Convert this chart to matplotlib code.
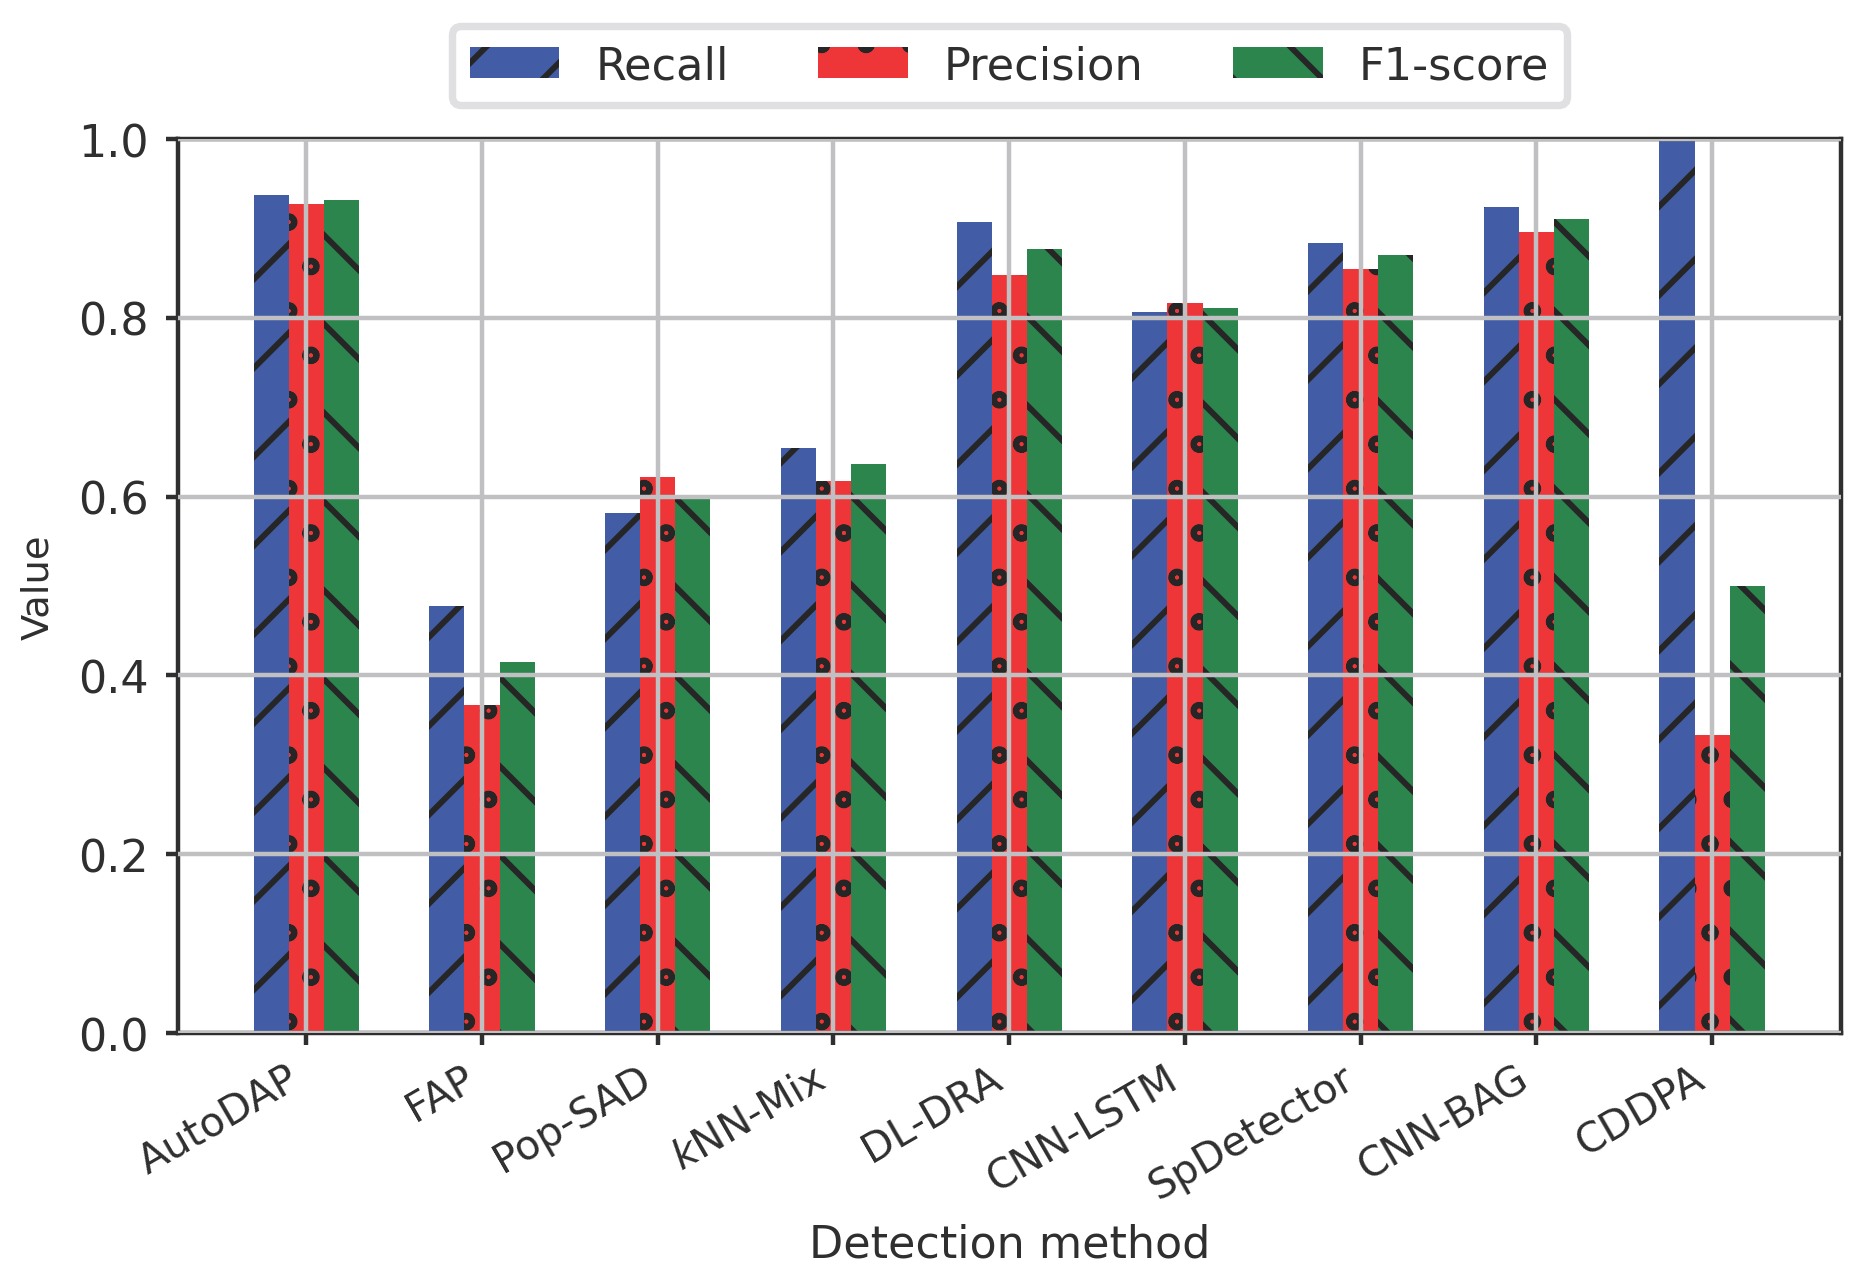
import numpy as np
import matplotlib
matplotlib.use('Agg')
import matplotlib.pyplot as plt
import matplotlib.hatch

methods = ['AutoDAP', 'FAP', 'Pop-SAD', '$k$NN-Mix', 'DL-DRA', 'CNN-LSTM',
           'SpDetector', 'CNN-BAG', 'CDDPA']
recall = [0.937, 0.478, 0.582, 0.654, 0.907, 0.806, 0.884, 0.924, 1.0]
precision = [0.927, 0.367, 0.622, 0.618, 0.848, 0.817, 0.855, 0.896, 0.333]
f1 = [0.932, 0.415, 0.597, 0.636, 0.877, 0.811, 0.870, 0.910, 0.500]

series = [('Recall', recall, '#425ca6', '//'),
          ('Precision', precision, '#ee3538', 'oo'),
          ('F1-score', f1, '#2b854d', '\\\\')]

ink = '#2f2f2f'
plt.rcParams['font.family'] = ['DejaVu Sans']
plt.rcParams['text.color'] = ink
plt.rcParams['axes.labelcolor'] = ink
plt.rcParams['xtick.color'] = ink
plt.rcParams['ytick.color'] = ink
plt.rcParams['axes.edgecolor'] = ink
plt.rcParams['axes.linewidth'] = 0.6
plt.rcParams['hatch.linewidth'] = 0.8
plt.rcParams['hatch.color'] = '#262626'
# smaller rings than the stock 'o' hatch
matplotlib.hatch.SmallCircles.size = 0.13

fig, ax = plt.subplots(figsize=(3.5, 2.4165), dpi=533)
fig.subplots_adjust(left=0.0954, right=0.9866, top=0.8913, bottom=0.1972)

x = np.arange(len(methods))
w = 0.2
for i, (name, vals, col, h) in enumerate(series):
    ax.bar(x + (i - 1) * w, vals, w, color=col, hatch=h,
           edgecolor='#262626', linewidth=0, label=name)

ax.set_ylim(0, 1.0)
ax.set_yticks(np.arange(0, 1.01, 0.2))
ax.set_xticks(x)
ax.set_xticklabels(methods, rotation=30, ha='right', fontsize=5.5)
ax.tick_params(axis='y', labelsize=6, pad=2.3)
ax.tick_params(axis='x', pad=1.8)
ax.tick_params(length=1.6, width=0.6)
ax.set_axisbelow(False)
ax.grid(True, color='#c0c0c2', linewidth=0.6)

ax.set_ylabel('Value', fontsize=5.2, labelpad=3)
ax.set_xlabel('Detection method', fontsize=6, labelpad=2)

ax.legend(loc='lower center', bbox_to_anchor=(0.5, 1.038), borderaxespad=0,
          ncol=3, fontsize=6.05, edgecolor='#d9d9db', fancybox=True)

fig.savefig('out.png', dpi=533)
